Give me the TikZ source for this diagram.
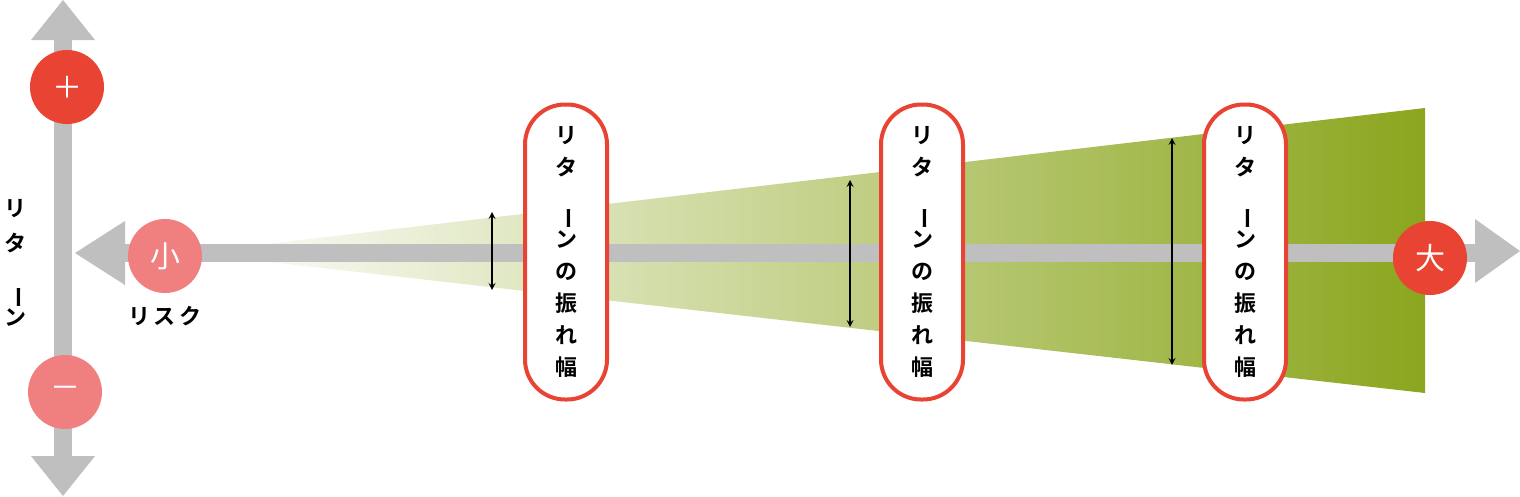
\documentclass[tikz,border=0pt]{standalone}
\usepackage{fontspec}
\newfontfamily\jp{Noto Sans CJK JP}
\newfontfamily\jpb{Noto Sans CJK JP Bold}
\definecolor{axisgray}{HTML}{BFBFBF}
\definecolor{redc}{HTML}{E94333}
\definecolor{pinkc}{HTML}{F08080}
\definecolor{greenc}{HTML}{8BA61E}
\begin{document}
\begin{tikzpicture}[x=1pt,y=-1pt,
  circ/.style={circle,minimum size=74pt,inner sep=0pt,text=white,font=\jp\fontsize{30}{30}\selectfont},
  pill/.style={draw=redc,line width=4pt,fill=white,rounded corners=40pt,minimum width=82pt,minimum height=295pt,inner sep=0pt,align=center,font=\jpb\fontsize{22}{32}\selectfont},
  dbl/.style={<->,>=stealth,line width=2pt}]
\useasboundingbox (0,0) rectangle (1520,496);
% wedge
\shade[left color=white,right color=greenc] (190,253) -- (1425,108) -- (1425,393) -- cycle;
% axes
\draw[axisgray,line width=18pt] (63,35) -- (63,460);
\fill[axisgray] (63,0) -- (95,40) -- (31,40) -- cycle;
\fill[axisgray] (63,496) -- (95,456) -- (31,456) -- cycle;
\draw[axisgray,line width=18pt] (120,253) -- (1480,253);
\fill[axisgray] (75,253) -- (125,221) -- (125,285) -- cycle;
\fill[axisgray] (1520,251) -- (1475,219) -- (1475,283) -- cycle;
% circles
\node[circ,fill=redc] (plus) at (67,87) {＋};
\node[circ,fill=pinkc] (minus) at (65,392) {－};
\node[circ,fill=pinkc] (small) at (165,256) {小};
\node[circ,fill=redc] (big) at (1430,258) {大};
\node[font=\jpb\fontsize{22}{22}\selectfont] (risk) at (165,316) {リ\,ス\,ク};
\node[font=\jpb\fontsize{22}{35}\selectfont,align=center] (ret) at (16,263) {リ\\タ\\\rotatebox{-90}{ー}\\ン};
% double arrows
\coordinate (a1t) at (492,212); \coordinate (a1b) at (492,290);
\coordinate (a2t) at (850,180); \coordinate (a2b) at (850,327);
\coordinate (a3t) at (1172,138); \coordinate (a3b) at (1172,365);
\draw[dbl] (a1t) -- (a1b);
\draw[dbl] (a2t) -- (a2b);
\draw[dbl] (a3t) -- (a3b);
% pills
\foreach \n/\x in {p1/566,p2/922,p3/1245}{
  \node[pill] (\n) at (\x,252) {リ\\タ\\\rotatebox{-90}{ー}\\ン\\の\\振\\れ\\幅};
}
\end{tikzpicture}
\end{document}
